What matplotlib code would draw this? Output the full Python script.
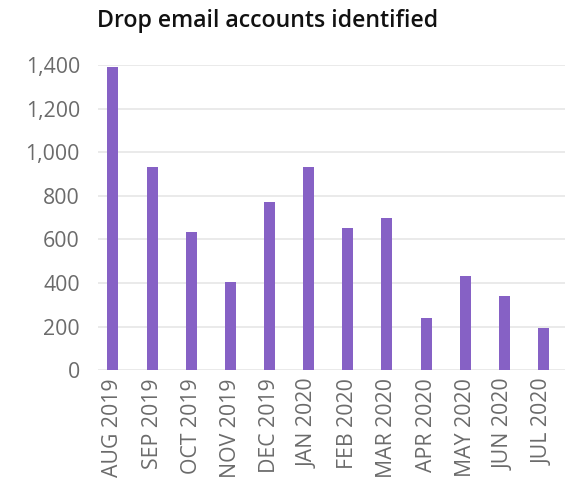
import matplotlib.pyplot as plt
from matplotlib.ticker import FuncFormatter

plt.rcParams['font.family'] = ['Open Sans', 'DejaVu Sans']

# Data
months = ['AUG 2019', 'SEP 2019', 'OCT 2019', 'NOV 2019', 'DEC 2019', 'JAN 2020',
          'FEB 2020', 'MAR 2020', 'APR 2020', 'MAY 2020', 'JUN 2020', 'JUL 2020']
accounts = [1390, 930, 635, 405, 770, 930, 650, 700, 240, 430, 340, 195]
yticks = [0, 200, 400, 600, 800, 1000, 1200, 1400]

bar_color = '#8661C5'
tick_color = '#6b6b6b'

fig = plt.figure(figsize=(5.65, 4.8), dpi=100)
ax = fig.add_axes([0.1735, 0.229, 0.8265, 0.6355])

x = list(range(len(months)))
ax.bar(x, accounts, width=0.28, color=bar_color, zorder=3)

ax.set_xlim(-0.38, 11.55)
ax.set_ylim(0, 1400)
ax.set_yticks(yticks)
ax.yaxis.set_major_formatter(FuncFormatter(lambda v, p: f'{int(v):,}'))
ax.set_xticks(x)
ax.set_xticklabels(months, rotation=90)

ax.grid(axis='y', color='#e8e8e8', lw=1.3, zorder=0)
for s in ax.spines.values():
    s.set_visible(False)
ax.tick_params(axis='both', length=0, labelsize=15.3, colors=tick_color)
ax.tick_params(axis='y', pad=13)
ax.tick_params(axis='x', pad=6)

fig.text(0.172, 0.956, 'Drop email accounts identified', fontsize=16.7,
         fontweight='semibold', color='#111111', ha='left', va='center')

fig.savefig('out.png', dpi=100)
